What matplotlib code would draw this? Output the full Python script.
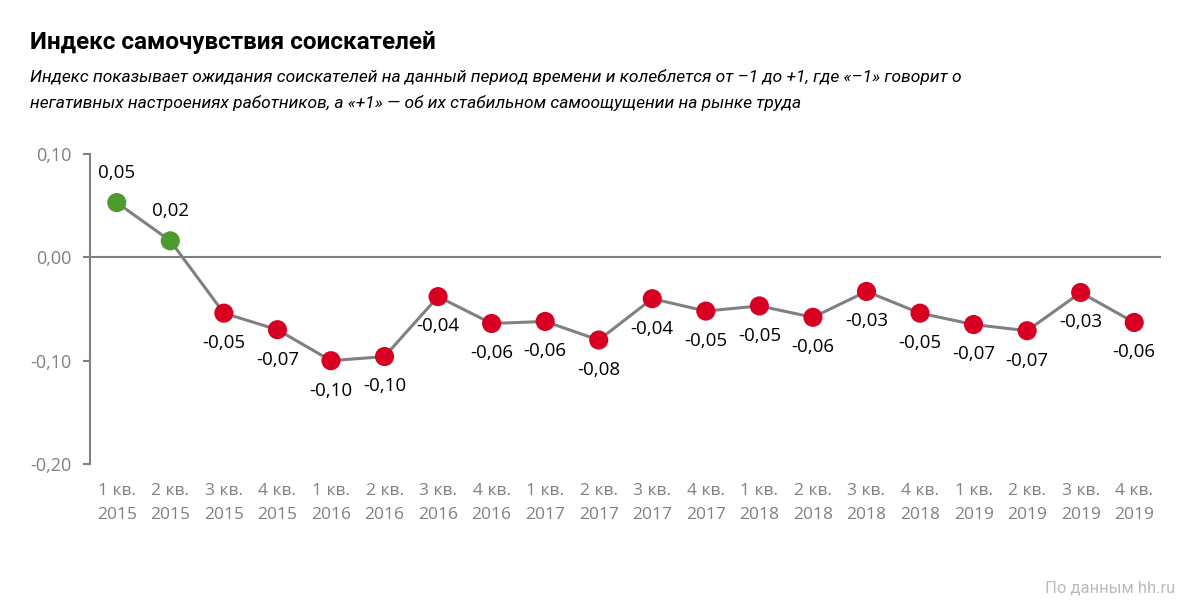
import matplotlib
matplotlib.use("Agg")
import matplotlib.pyplot as plt

quarters = ["1 кв.\n2015", "2 кв.\n2015", "3 кв.\n2015", "4 кв.\n2015",
            "1 кв.\n2016", "2 кв.\n2016", "3 кв.\n2016", "4 кв.\n2016",
            "1 кв.\n2017", "2 кв.\n2017", "3 кв.\n2017", "4 кв.\n2017",
            "1 кв.\n2018", "2 кв.\n2018", "3 кв.\n2018", "4 кв.\n2018",
            "1 кв.\n2019", "2 кв.\n2019", "3 кв.\n2019", "4 кв.\n2019"]
values = [0.053, 0.016, -0.054, -0.070, -0.100, -0.096, -0.038, -0.064,
          -0.062, -0.080, -0.040, -0.052, -0.047, -0.058, -0.033, -0.054,
          -0.065, -0.071, -0.034, -0.063]
labels = ["0,05", "0,02", "-0,05", "-0,07", "-0,10", "-0,10", "-0,04", "-0,06",
          "-0,06", "-0,08", "-0,04", "-0,05", "-0,05", "-0,06", "-0,03", "-0,05",
          "-0,07", "-0,07", "-0,03", "-0,06"]
yticks = [-0.20, -0.10, 0.00, 0.10]
ytick_labels = ["-0,20", "-0,10", "0,00", "0,10"]

GREEN = "#4F9A2C"
RED = "#D70022"
GRAY = "#808080"

plt.rcParams['font.family'] = ['Open Sans', 'DejaVu Sans']

fig = plt.figure(figsize=(12, 6.1), dpi=100)
ax = fig.add_axes([0.075, 0.2393, 0.8925, 0.5082])

x = list(range(len(values)))
ax.plot(x, values, color=GRAY, lw=2.2, zorder=2)
colors = [GREEN if v >= 0 else RED for v in values]
ax.scatter(x, values, s=190, c=colors, zorder=3, linewidths=0)

for xi, v, lab in zip(x, values, labels):
    dy = 21.5 if v >= 0 else -21.5
    ax.annotate(lab, (xi, v), xytext=(0, dy), textcoords="offset points",
                ha="center", va="center", fontsize=13.5, color="black")

ax.axhline(0, color=GRAY, lw=1.5, zorder=1)
ax.set_xlim(-0.5, 19.5)
ax.set_ylim(-0.20, 0.10)
ax.set_yticks(yticks)
ax.set_yticklabels(ytick_labels)
ax.set_xticks(x)
ax.set_xticklabels(quarters, linespacing=1.6)
for s in ["top", "right", "bottom"]:
    ax.spines[s].set_visible(False)
ax.spines["left"].set_color(GRAY)
ax.spines["left"].set_linewidth(1.5)
ax.tick_params(axis="y", colors=GRAY, labelsize=13, length=5, width=1.5, pad=8)
ax.tick_params(axis="x", colors=GRAY, labelsize=12.5, length=0, pad=14)

fig.text(30/1200, 1 - 43/610, "Индекс самочувствия соискателей", fontsize=17.5,
         fontweight="bold", ha="left", va="center", color="black",
         family=["Roboto", "DejaVu Sans"])
fig.text(30/1200, 1 - 77/610,
         "Индекс показывает ожидания соискателей на данный период времени и колеблется от –1 до +1, где «–1» говорит о",
         fontsize=12.5, style="italic", ha="left", va="center", color="black",
         family=["Roboto", "DejaVu Sans"])
fig.text(30/1200, 1 - 103/610,
         "негативных настроениях работников, а «+1» — об их стабильном самоощущении на рынке труда",
         fontsize=12.5, style="italic", ha="left", va="center", color="black",
         family=["Roboto", "DejaVu Sans"])
fig.text(1175/1200, 1 - 588/610, "По данным hh.ru", fontsize=12, color="#BBBBBB",
         ha="right", va="center", family=["Roboto", "DejaVu Sans"])

fig.savefig("out.png", dpi=100, facecolor="white")
